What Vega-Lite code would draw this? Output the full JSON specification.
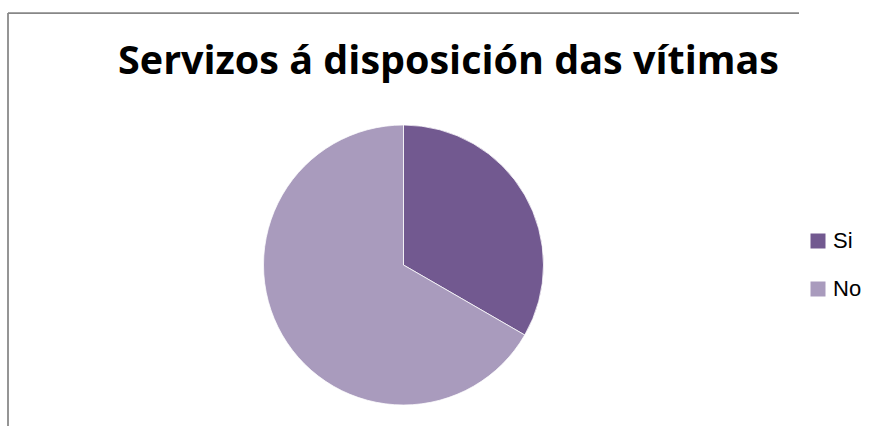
{
  "$schema": "https://vega.github.io/schema/vega-lite/v6.json",
  "width": 791,
  "height": 504,
  "padding": {"left": 8, "top": 13, "right": 0, "bottom": 0},
  "background": "white",
  "view": {"stroke": "#878787", "strokeWidth": 1.75, "strokeDash": [791, 1295, 504, 0]},
  "title": {
    "text": "Servizos á disposición das vítimas",
    "font": "Open Sans",
    "fontSize": 39.5,
    "fontWeight": "bold",
    "color": "#000000",
    "anchor": "middle",
    "baseline": "alphabetic",
    "offset": -64,
    "dy": 36,
    "dx": 45
  },
  "data": {
    "values": [
      {"respuesta": "Si", "valor": 1, "orde": 1},
      {"respuesta": "No", "valor": 2, "orde": 2}
    ]
  },
  "mark": {"type": "arc", "outerRadius": 140, "stroke": "#ffffff", "strokeWidth": 0.75},
  "encoding": {
    "theta": {"field": "valor", "type": "quantitative", "stack": true},
    "order": {"field": "orde", "type": "quantitative"},
    "color": {
      "field": "respuesta",
      "type": "nominal",
      "sort": ["Si", "No"],
      "scale": {"domain": ["Si", "No"], "range": ["#725990", "#a99bbd"]},
      "legend": {
        "title": null,
        "orient": "none",
        "legendX": 799,
        "legendY": 217,
        "symbolType": "square",
        "symbolSize": 225,
        "symbolStrokeWidth": 0,
        "symbolOpacity": 1,
        "labelFont": "Liberation Sans",
        "labelFontSize": 22,
        "labelColor": "#000000",
        "labelOffset": 4,
        "rowPadding": 26
      }
    }
  }
}
